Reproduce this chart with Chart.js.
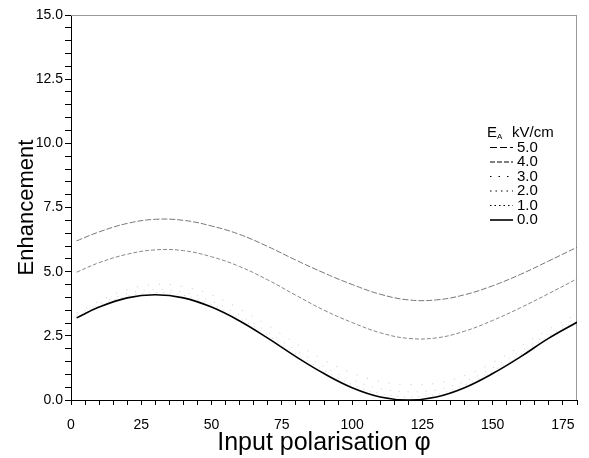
<!DOCTYPE html>
<html>
<head>
<meta charset="utf-8">
<script src="https://cdn.jsdelivr.net/npm/chart.js@4.4.0/dist/chart.umd.min.js"></script>
<style>
  html, body { margin: 0; padding: 0; background: #fff; }
  #wrap { width: 589px; height: 458px; position: relative; }
</style>
</head>
<body>
<div id="wrap"><canvas id="enhChart"></canvas></div>
<script>
// input polarisation angle (deg)
const phi = [2, 10, 20, 30, 40, 50, 60, 70, 80, 90, 100, 110, 120, 130, 140, 150, 160, 170, 180];

// enhancement, one list per field strength E_A (kV/cm)
const enh50 = [6.20, 6.55, 6.88, 7.04, 7.00, 6.78, 6.45, 5.98, 5.45, 4.95, 4.50, 4.12, 3.90, 3.90, 4.10, 4.45, 4.90, 5.42, 5.95];
const enh40 = [4.98, 5.35, 5.68, 5.85, 5.82, 5.58, 5.20, 4.68, 4.08, 3.50, 3.02, 2.62, 2.40, 2.42, 2.68, 3.10, 3.60, 4.15, 4.72];
const enh30 = [3.40, 3.85, 4.30, 4.50, 4.42, 4.10, 3.55, 2.90, 2.20, 1.55, 1.05, 0.72, 0.60, 0.65, 0.95, 1.45, 2.10, 2.75, 3.35];
const enh20 = [3.30, 3.74, 4.14, 4.30, 4.20, 3.85, 3.30, 2.65, 1.95, 1.30, 0.78, 0.45, 0.32, 0.40, 0.72, 1.25, 1.90, 2.60, 3.20];
const enh10 = [3.25, 3.68, 4.05, 4.18, 4.08, 3.72, 3.18, 2.52, 1.80, 1.15, 0.60, 0.25, 0.12, 0.22, 0.58, 1.12, 1.78, 2.50, 3.10];
const enh00 = [3.20, 3.62, 3.98, 4.10, 3.98, 3.62, 3.08, 2.41, 1.69, 1.03, 0.48, 0.12, 0.00, 0.12, 0.48, 1.03, 1.69, 2.41, 3.03];

const fieldLabels = ['5.0', '4.0', '3.0', '2.0', '1.0', '0.0'];
const xTickLabels = [0, 25, 50, 75, 100, 125, 150, 175];
const yTickLabels = [0, 2.5, 5, 7.5, 10, 12.5, 15];

const FONT = '"Liberation Sans", Arial, sans-serif';

function pts(vals) {
  return phi.map((p, i) => ({ x: p, y: vals[i] }));
}

// legend drawn inside the plot, like the original
const legendBox = {
  id: 'legendBox',
  afterDraw(chart) {
    const ctx = chart.ctx;
    const x0 = chart.chartArea.right - 90;
    let y = 133;
    ctx.save();
    ctx.fillStyle = '#000';
    ctx.textBaseline = 'middle';
    ctx.font = '15px ' + FONT;
    ctx.fillText('E', x0, y);
    ctx.font = '8px ' + FONT;
    ctx.fillText('A', x0 + 10, y + 4);
    ctx.font = '15px ' + FONT;
    ctx.fillText('kV/cm', x0 + 25, y);
    chart.data.datasets.forEach(ds => {
      y += 14.5;
      ctx.beginPath();
      ctx.setLineDash(ds.legendDash || []);
      ctx.strokeStyle = '#000';
      ctx.lineWidth = ds.borderWidth;
      ctx.moveTo(x0 + 3, y);
      ctx.lineTo(x0 + 26, y);
      ctx.stroke();
      ctx.setLineDash([]);
      ctx.fillText(ds.label, x0 + 30, y);
    });
    ctx.restore();
  }
};

// faint top and right frame
const frame = {
  id: 'frame',
  beforeDatasetsDraw(chart) {
    const { ctx, chartArea: a } = chart;
    ctx.save();
    ctx.strokeStyle = '#999';
    ctx.lineWidth = 1;
    ctx.beginPath();
    ctx.moveTo(a.left, a.top + 0.5);
    ctx.lineTo(a.right, a.top + 0.5);
    ctx.moveTo(a.right - 0.5, a.top);
    ctx.lineTo(a.right - 0.5, a.bottom);
    ctx.stroke();
    ctx.restore();
  }
};

const ctx = document.getElementById('enhChart').getContext('2d');
const enhChart = new Chart(ctx, {
  type: 'line',
  data: {
    datasets: [
      { label: fieldLabels[0], data: pts(enh50), borderColor: '#777', borderWidth: 1, borderDash: [6, 2], legendDash: [7, 3] },
      { label: fieldLabels[1], data: pts(enh40), borderColor: '#888', borderWidth: 1, borderDash: [4, 2], legendDash: [5, 2] },
      { label: fieldLabels[2], data: pts(enh30), borderColor: '#c4c4c4', borderWidth: 1, borderDash: [1, 10], legendDash: [1.5, 7] },
      { label: fieldLabels[3], data: pts(enh20), borderColor: '#ccc', borderWidth: 1, borderDash: [1, 8], legendDash: [1.5, 4] },
      { label: fieldLabels[4], data: pts(enh10), borderColor: '#d0d0d0', borderWidth: 1, borderDash: [1, 6], legendDash: [1.5, 3] },
      { label: fieldLabels[5], data: pts(enh00), borderColor: '#000', borderWidth: 1.6, borderDash: [], legendDash: [] }
    ]
  },
  options: {
    responsive: true,
    maintainAspectRatio: false,
    animation: false,
    layout: { padding: { left: 0, right: 12, top: 15, bottom: 0 } },
    elements: {
      point: { radius: 0 },
      line: { tension: 0.4, fill: false }
    },
    plugins: {
      legend: { display: false },
      tooltip: { enabled: false }
    },
    scales: {
      x: {
        type: 'linear',
        min: 0,
        max: 180,
        afterFit: s => { s.height = 58; },
        border: { display: true, color: '#000', width: 1 },
        grid: { drawOnChartArea: false, drawTicks: true, tickLength: 5, color: '#000' },
        ticks: {
          stepSize: 5,
          maxTicksLimit: 100,
          autoSkip: false,
          maxRotation: 0,
          padding: 12,
          color: '#000',
          font: { family: FONT, size: 14 },
          callback: v => xTickLabels.includes(v) ? String(v) : ''
        },
        title: {
          display: true,
          text: 'Input polarisation φ',
          color: '#000',
          font: { family: FONT, size: 25 },
          padding: { top: 0, bottom: 0 }
        }
      },
      y: {
        min: 0,
        max: 15,
        afterFit: s => { s.width = 71; },
        border: { display: true, color: '#000', width: 1 },
        grid: { drawOnChartArea: false, drawTicks: true, tickLength: 6, color: '#000' },
        ticks: {
          stepSize: 0.5,
          maxTicksLimit: 100,
          autoSkip: false,
          padding: 2,
          color: '#000',
          font: { family: FONT, size: 14 },
          callback: v => yTickLabels.some(t => Math.abs(t - v) < 1e-6) ? v.toFixed(1) : ''
        },
        title: {
          display: true,
          text: 'Enhancement',
          color: '#000',
          font: { family: FONT, size: 22 },
          padding: { top: 14, bottom: 0 }
        }
      }
    }
  },
  plugins: [frame, legendBox]
});
</script>
</body>
</html>
